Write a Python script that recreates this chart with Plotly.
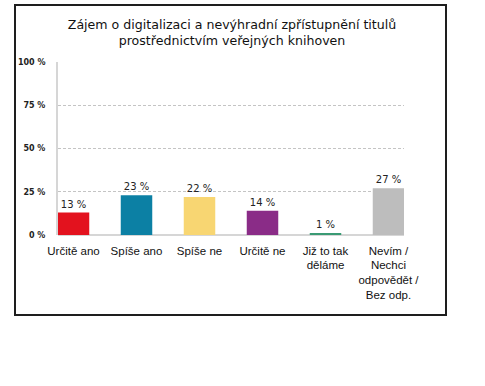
import plotly.graph_objects as go

categories = ["Určitě ano", "Spíše ano", "Spíše ne", "Určitě ne", "Již to tak<br>děláme",
              "Nevím /<br>Nechci<br>odpovědět /<br>Bez odp."]
values = [13, 23, 22, 14, 1, 27]
colors = ["#E3121E", "#0C80A4", "#F8D672", "#8A2C87", "#3A9A74", "#BDBDBD"]
y_ticks = [0, 25, 50, 75, 100]
y_tick_labels = ["0 %", "25 %", "50 %", "75 %", "100 %"]
title = "Zájem o digitalizaci a nevýhradní zpřístupnění titulů<br>prostřednictvím veřejných knihoven"

W, H = 485, 386
L, R, T, B = 58, 404, 62, 235

x = list(range(len(categories)))
fig = go.Figure(go.Bar(
    x=x, y=values, width=0.5,
    marker=dict(color=colors, line=dict(width=0)),
    text=[f"{v} %" for v in values], textposition="outside", cliponaxis=False,
    textfont=dict(family="DejaVu Sans", size=10, color="#222"),
))

def px(v):
    return (v - L) / (R - L)

def py(v):
    return (B - v) / (B - T)

fig.update_layout(
    width=W, height=H,
    margin=dict(l=L, r=W - R, t=T, b=H - B, pad=0),
    paper_bgcolor="white", plot_bgcolor="white",
    showlegend=False,
    title=dict(text=title, x=px(232), xref="paper", xanchor="center",
               y=1 - 29 / H, yref="container", yanchor="middle",
               font=dict(family="DejaVu Sans", size=12.6, color="#111")),
    xaxis=dict(range=[-0.246, 5.246], tickvals=x, ticktext=categories,
               showgrid=False, zeroline=False, showline=False, ticks="",
               ticklabelstandoff=7,
               tickfont=dict(family="Liberation Sans", size=11.5, color="#111")),
    yaxis=dict(range=[0, 100], tickvals=y_ticks,
               ticktext=[f"<b>{t}</b>" for t in y_tick_labels],
               showgrid=True, gridcolor="#C4C4C4", griddash="3px,2px", gridwidth=1,
               zeroline=True, zerolinecolor="#D6D6D6", zerolinewidth=2,
               showline=True, linecolor="#D6D6D6", linewidth=2, ticks="",
               ticklabelstandoff=9,
               tickfont=dict(family="DejaVu Sans", size=8, color="#222")),
    shapes=[dict(type="rect", xref="paper", yref="paper", layer="above",
                 x0=px(15), x1=px(446), y0=py(315), y1=py(5),
                 line=dict(color="#1E1E1E", width=2), fillcolor="rgba(0,0,0,0)")],
)

fig.write_html("out.html", config={"displayModeBar": False},
               post_script="document.body.style.margin='0';")
